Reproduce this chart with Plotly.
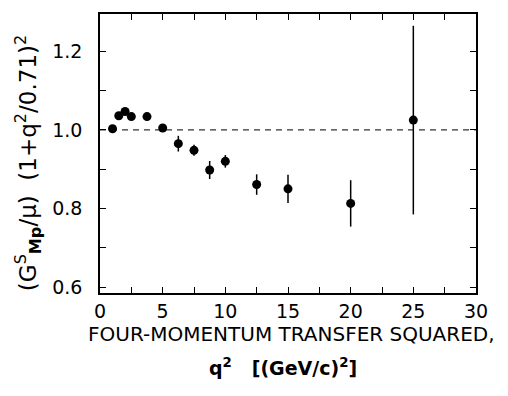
import plotly.graph_objects as go

# Data
q2 = [1.0, 1.5, 2.0, 2.5, 3.75, 5.0, 6.25, 7.5, 8.75, 10.0, 12.5, 15.0, 20.0, 25.0]
ratio = [1.003, 1.036, 1.047, 1.034, 1.034, 1.005, 0.965, 0.948, 0.898, 0.920, 0.861, 0.850, 0.813, 1.025]
err = [0.0, 0.0, 0.0, 0.0, 0.0, 0.0, 0.020, 0.014, 0.023, 0.016, 0.026, 0.036, 0.059, 0.240]

x_ticks = [0, 5, 10, 15, 20, 25, 30]
x_labels = ["0", "5", "10", "15", "20", "25", "30"]
y_ticks = [0.6, 0.8, 1.0, 1.2]
y_labels = ["0.6", "0.8", "1.0", "1.2"]
ref_line = [1.0, 1.0]
ref_x = [0, 30]

FONT = "DejaVu Sans"

fig = go.Figure()
fig.add_trace(go.Scatter(
    x=ref_x, y=ref_line, mode="lines",
    line=dict(color="#333", width=1.2, dash="6px,5px"),
    hoverinfo="skip", showlegend=False))
fig.add_trace(go.Scatter(
    x=q2, y=ratio, mode="markers",
    marker=dict(color="black", size=9),
    error_y=dict(type="data", array=err, visible=True, color="black", thickness=1.5, width=0),
    showlegend=False))

axis_common = dict(
    showgrid=False, zeroline=False, showline=True, linecolor="black", linewidth=1.5,
    mirror="ticks", ticks="inside", ticklen=6, tickwidth=1.3, tickcolor="black",
    tickfont=dict(family=FONT, size=19, color="black"),
)
minor_common = dict(ticks="inside", ticklen=6, tickwidth=1.3, tickcolor="black", showgrid=False)
fig.update_xaxes(range=[0, 30], tickmode="array", tickvals=x_ticks, ticktext=x_labels,
                 minor=dict(tick0=0, dtick=2.5, **minor_common),
                 ticklabelstandoff=0, **axis_common)
fig.update_yaxes(range=[0.585, 1.295], tickmode="array", tickvals=y_ticks, ticktext=y_labels,
                 minor=dict(tick0=0.6, dtick=0.1, **minor_common),
                 ticklabelstandoff=12, **axis_common)

fig.update_layout(
    width=500, height=388,
    margin=dict(l=92, r=32, t=4, b=103),
    paper_bgcolor="white", plot_bgcolor="white",
    annotations=[
        dict(text="FOUR-MOMENTUM TRANSFER SQUARED,", xref="paper", yref="paper",
             x=0.51, y=-0.147, xanchor="center", yanchor="middle", showarrow=False,
             font=dict(family=FONT, size=20, color="black")),
        dict(text="<b>q<sup>2</sup>   [(GeV/c)<sup>2</sup>]</b>", xref="paper", yref="paper",
             x=0.487, y=-0.267, xanchor="center", yanchor="middle", showarrow=False,
             font=dict(family=FONT, size=19, color="black")),
        dict(text="(G<sup>S</sup><sub><b>Mp</b></sub>/μ)  (1+q<sup>2</sup>/0.71)<sup>2</sup>",
             xref="paper", yref="paper", x=-0.191, y=0.466, textangle=-90,
             xanchor="center", yanchor="middle", showarrow=False,
             font=dict(family=FONT, size=23, color="black")),
    ],
)

fig.write_html("out.html")
